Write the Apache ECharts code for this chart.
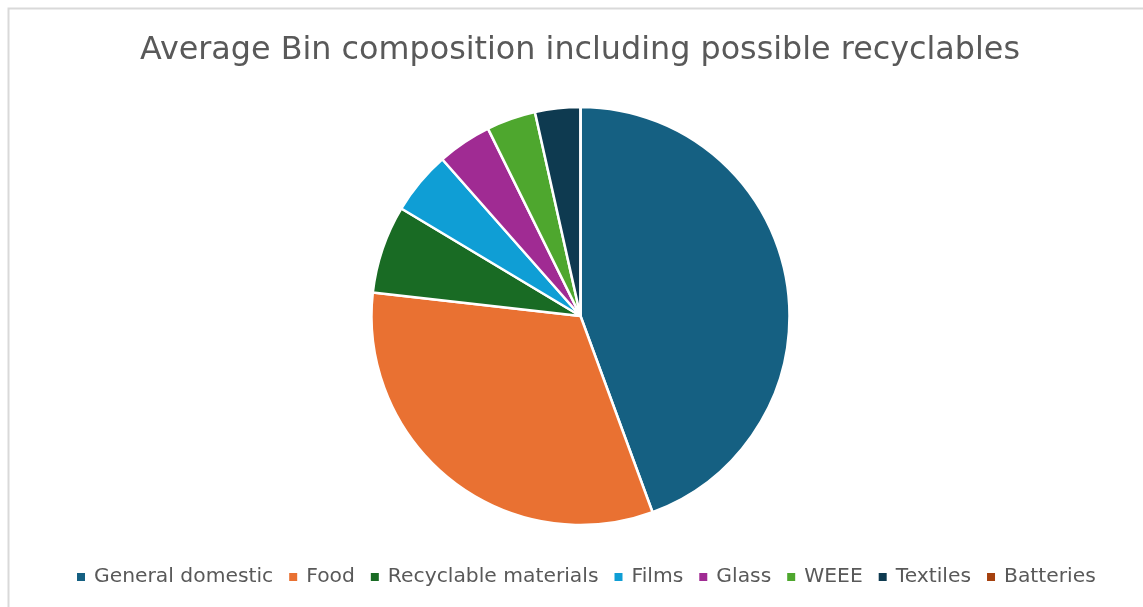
<!DOCTYPE html>
<html>
<head>
<meta charset="utf-8">
<script src="https://cdn.jsdelivr.net/npm/echarts@6/dist/echarts.min.js"></script>
<style>
html,body{margin:0;padding:0;background:#fff;}
#c{width:1143px;height:607px;}
</style>
</head>
<body>
<div id="c"></div>
<script>
const categories = ["General domestic","Food","Recyclable materials","Films","Glass","WEEE","Textiles","Batteries"];
const values = [44.4, 32.4, 6.8, 4.9, 4.2, 3.8, 3.5, 0.0];
const colors = ["#156082","#E97132","#196B24","#0F9ED5","#A02B93","#4EA72E","#0E3A50","#A5410E"];

const chart = echarts.init(document.getElementById('c'));
chart.setOption({
  animation:false,
  color: colors,
  graphic:[{type:'rect',shape:{x:8.5,y:8.5,width:1200,height:700},style:{fill:'none',stroke:'#d9d9d9',lineWidth:2},silent:true,z:-1}],
  title:{text:'Average Bin composition including possible recyclables',left:135,top:30,
    textStyle:{color:'#595959',fontSize:31.8,fontWeight:'normal',fontFamily:'DejaVu Sans'}},
  legend:{top:562,left:70,itemWidth:10,itemHeight:10,itemGap:14,icon:'rect',
    textStyle:{color:'#595959',fontSize:20.3,fontFamily:'DejaVu Sans',padding:[0,0,0,3]},data:categories},
  series:[{type:'pie',center:[580.5,316],radius:[0,209],startAngle:90,clockwise:true,
    label:{show:false},labelLine:{show:false},minAngle:0,avoidLabelOverlap:false,
    itemStyle:{borderColor:'#fff',borderWidth:2.5},
    data:categories.map((n,i)=>({name:n,value:values[i]}))}]
});
</script>
</body>
</html>
